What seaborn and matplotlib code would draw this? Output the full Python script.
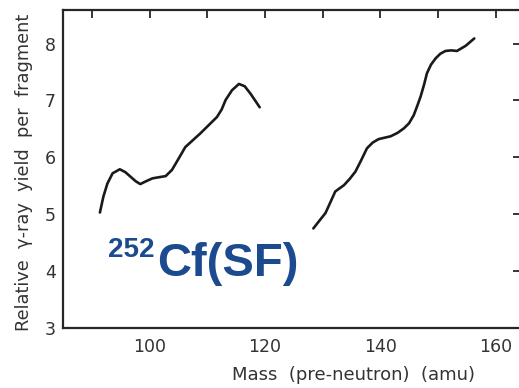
import matplotlib
matplotlib.use("Agg")
import matplotlib.pyplot as plt
import seaborn as sns
import pandas as pd

# Light fragment group (mass, relative gamma-ray yield)
light_mass = [91.4, 92.0, 92.7, 93.6, 94.85, 95.8, 96.7, 97.6, 98.4, 99.4, 100.5,
              101.6, 102.8, 103.9, 105.0, 106.2, 107.5, 108.8, 110.2, 111.7,
              112.5, 113.2, 114.3, 115.5, 116.5, 117.5, 118.3, 119.1]
light_yield = [5.03, 5.31, 5.54, 5.72, 5.79, 5.74, 5.66, 5.58, 5.53, 5.58, 5.63,
               5.65, 5.67, 5.78, 5.97, 6.18, 6.30, 6.42, 6.56, 6.71,
               6.84, 7.01, 7.18, 7.29, 7.25, 7.12, 7.00, 6.88]

# Heavy fragment group
heavy_mass = [128.4, 129.4, 130.5, 131.4, 132.2, 133.7, 134.7, 135.7, 136.7, 137.7,
              138.7, 139.7, 141.8, 143.0, 144.1, 145.0, 145.8, 146.4, 147.0,
              147.6, 148.1, 148.8, 149.6, 150.4, 151.3, 152.3, 153.3, 154.8, 156.3]
heavy_yield = [4.75, 4.88, 5.02, 5.22, 5.40, 5.51, 5.62, 5.75, 5.95, 6.16,
               6.26, 6.32, 6.37, 6.43, 6.51, 6.60, 6.74, 6.90, 7.07,
               7.28, 7.48, 7.63, 7.74, 7.82, 7.87, 7.88, 7.87, 7.96, 8.09]

x_ticks = [90, 100, 110, 120, 130, 140, 150, 160]
x_labels = ["", "100", "", "120", "", "140", "", "160"]
y_ticks = [3, 4, 5, 6, 7, 8]

df = pd.concat([
    pd.DataFrame({"mass": light_mass, "yield": light_yield, "group": "light"}),
    pd.DataFrame({"mass": heavy_mass, "yield": heavy_yield, "group": "heavy"}),
], ignore_index=True)

sns.set_style("white")
plt.rcParams["font.family"] = ["DejaVu Sans"]

ink = "#262626"
fig = plt.figure(figsize=(5.19, 3.88), dpi=100)
ax = fig.add_axes([63 / 519, 1 - 328 / 388, (521 - 63) / 519, (328 - 10) / 388])

sns.lineplot(data=df, x="mass", y="yield", units="group", estimator=None,
             color="#1a1a1a", linewidth=1.9, sort=False, ax=ax,
             solid_capstyle="round", solid_joinstyle="round")

ax.set_xlim(85, 164.4)
ax.set_ylim(3, 8.59)
ax.set_xticks(x_ticks)
ax.set_xticklabels(x_labels)
ax.set_yticks(y_ticks)
ax.set_yticklabels([str(v) for v in y_ticks])

ax.tick_params(axis="both", which="major", direction="in", length=6, width=1.3,
               color=ink, top=True, right=True, labelsize=12.5, labelcolor="#333333")
ax.tick_params(axis="x", pad=7)
ax.tick_params(axis="y", pad=5)
for s in ax.spines.values():
    s.set_color(ink)
    s.set_linewidth(1.6)

ax.set_xlabel("Mass  (pre-neutron)  (amu)", fontsize=13, color="#333333")
ax.xaxis.set_label_coords((354 - 63) / (521 - 63), -(366 - 328) / 318)
ax.set_ylabel("Relative  \u03b3-ray  yield  per  fragment", fontsize=12.8, color="#333333")
ax.yaxis.set_label_coords(-(63 - 33) / (521 - 63), (328 - 172) / 318)

blue = "#1b4a8f"
fig.text(108 / 519, 1 - 257 / 388, "252", fontsize=20, fontweight="bold",
         family="Liberation Sans", color=blue, va="baseline", ha="left")
fig.text(157 / 519, 1 - 276 / 388, "Cf(SF)", fontsize=34, fontweight="bold",
         family="Liberation Sans", color=blue, va="baseline", ha="left")

fig.savefig("out.png", dpi=100)
